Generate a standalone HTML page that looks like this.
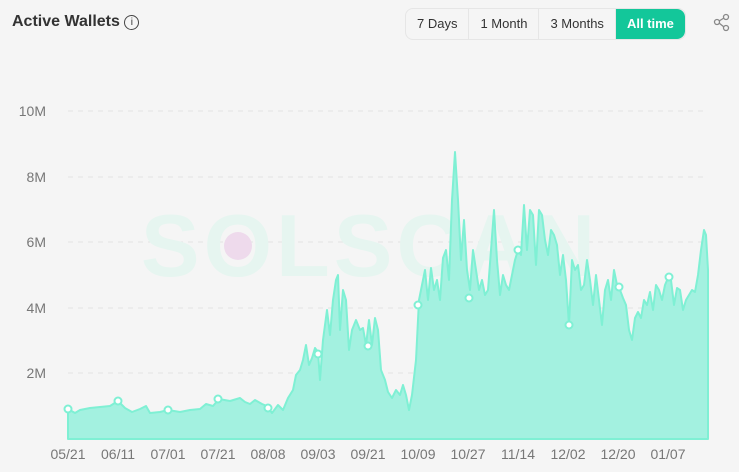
<!DOCTYPE html>
<html><head><meta charset="utf-8"><style>
html,body{margin:0;padding:0;background:#f5f5f5;width:739px;height:472px;overflow:hidden;font-family:"Liberation Sans",sans-serif}
.t{position:absolute;left:12px;top:13px;font-size:16px;color:#333;font-weight:bold}
.btns{position:absolute;left:405px;top:8px;height:30px;border:1px solid #e6e6e6;border-radius:8px;display:flex;background:#f5f5f5;overflow:hidden}
.btns div{font-size:13px;color:#333;padding:0 11px;line-height:30px;border-right:1px solid #e6e6e6}
.btns div.a{background:#13c79a;color:#fff;border:none;border-radius:0 8px 8px 0;font-weight:bold}
</style></head><body>
<div class="t">Active Wallets <span style="display:inline-block;width:13px;height:13px;border:1.5px solid #444;border-radius:50%;font-size:10px;line-height:13px;text-align:center;vertical-align:1px;font-weight:normal">i</span></div>
<div class="btns"><div>7 Days</div><div>1 Month</div><div>3 Months</div><div class="a">All time</div></div>
<svg style="position:absolute;left:0;top:0" width="739" height="472">
<g stroke="#888" stroke-width="1.3" fill="none"><circle cx="726" cy="17" r="2.5"/><circle cx="717" cy="22" r="2.5"/><circle cx="726" cy="28" r="2.5"/><path d="M719 21L724 18M719 23L724 27"/></g>
<g stroke="#e2e2e2" stroke-dasharray="5,5"><line x1="68" x2="708" y1="111" y2="111"/><line x1="68" x2="708" y1="177" y2="177"/><line x1="68" x2="708" y1="242" y2="242"/><line x1="68" x2="708" y1="308" y2="308"/><line x1="68" x2="708" y1="373" y2="373"/></g>
<g font-size="14" fill="#777" text-anchor="end"><text x="46" y="116">10M</text><text x="46" y="182">8M</text><text x="46" y="247">6M</text><text x="46" y="313">4M</text><text x="46" y="378">2M</text></g>
<g font-size="14" fill="#777" text-anchor="middle"><text x="68" y="459">05/21</text><text x="118" y="459">06/11</text><text x="168" y="459">07/01</text><text x="218" y="459">07/21</text><text x="268" y="459">08/08</text><text x="318" y="459">09/03</text><text x="368" y="459">09/21</text><text x="418" y="459">10/09</text><text x="468" y="459">10/27</text><text x="518" y="459">11/14</text><text x="568" y="459">12/02</text><text x="618" y="459">12/20</text><text x="668" y="459">01/07</text></g>
<text x="370" y="276" font-size="88" font-weight="bold" fill="#e6f5f0" text-anchor="middle" letter-spacing="4">SOLSCAN</text>
<circle cx="238" cy="246" r="14" fill="#eedaec"/>
<path fill="#a3f1e0" stroke="#7ff0d4" stroke-width="2" stroke-linejoin="round" d="M68,439 L68,409 L75,413 L80,410 L90,408 L100,407 L110,406 L118,401 L125,408 L132,412 L140,409 L146,406 L150,413 L160,412 L168,410 L180,412 L190,410 L200,409 L206,404 L213,406 L219,399 L230,401 L240,398 L245,402 L250,404 L255,400 L262,404 L267,406 L272,413 L278,405 L283,410 L288,398 L293,390 L296,375 L300,370 L303,360 L306,345 L309,365 L312,358 L315,348 L318,352 L320,380 L323,340 L327,310 L330,335 L333,300 L336,280 L338,275 L340,330 L343,290 L346,300 L349,350 L352,330 L356,320 L360,330 L363,328 L366,345 L369,320 L372,345 L375,318 L378,330 L381,370 L385,380 L388,392 L392,398 L396,390 L400,395 L403,385 L406,395 L409,410 L412,395 L416,360 L419,300 L422,285 L425,270 L428,300 L431,268 L434,290 L437,280 L440,300 L443,258 L446,250 L449,280 L452,200 L455,152 L458,200 L461,260 L464,220 L467,270 L470,290 L473,250 L476,270 L479,290 L482,280 L485,295 L488,290 L491,250 L494,210 L497,260 L500,295 L503,275 L506,285 L509,290 L512,275 L515,260 L518,250 L521,255 L524,205 L527,250 L530,210 L533,215 L536,265 L539,210 L542,215 L545,240 L548,255 L551,230 L554,235 L557,245 L560,275 L563,255 L566,280 L569,325 L572,260 L575,270 L578,265 L581,290 L584,285 L587,260 L590,280 L593,305 L596,275 L599,300 L602,325 L605,290 L608,280 L611,300 L614,270 L617,285 L620,290 L623,298 L626,305 L629,330 L632,340 L635,318 L638,312 L641,318 L644,300 L647,305 L650,292 L653,310 L656,285 L659,290 L662,300 L665,285 L668,278 L671,280 L674,305 L677,288 L680,290 L683,310 L686,300 L689,295 L692,290 L695,292 L698,275 L701,250 L704,230 L706,235 L708,270 L708,439 Z"/>
<g fill="#fff" stroke="#7ff0d4" stroke-width="2"><circle cx="68" cy="409" r="3.5"/><circle cx="118" cy="401" r="3.5"/><circle cx="168" cy="410" r="3.5"/><circle cx="218" cy="399" r="3.5"/><circle cx="268" cy="408" r="3.5"/><circle cx="318" cy="354" r="3.5"/><circle cx="368" cy="346" r="3.5"/><circle cx="418" cy="305" r="3.5"/><circle cx="469" cy="298" r="3.5"/><circle cx="518" cy="250" r="3.5"/><circle cx="569" cy="325" r="3.5"/><circle cx="619" cy="287" r="3.5"/><circle cx="669" cy="277" r="3.5"/></g>
</svg>
</body></html>
